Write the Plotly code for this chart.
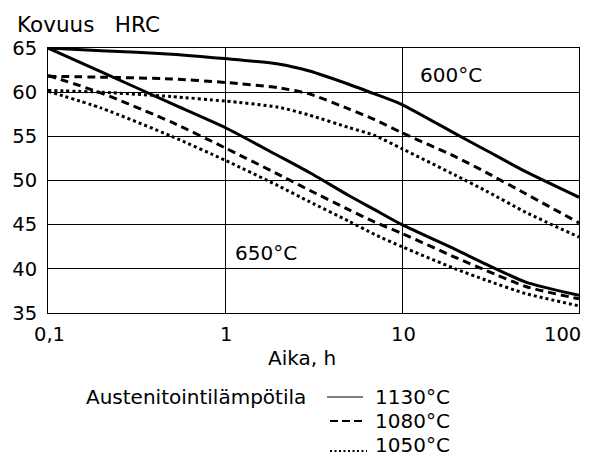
import math
import plotly.graph_objects as go

# Time (h), log axis
t = [0.1, 0.2, 0.5, 1, 2, 3, 5, 7, 10, 20, 30, 50, 100]

# 600°C tempering
h600_1130 = [65.0, 64.7, 64.3, 63.8, 63.2, 62.4, 60.9, 59.8, 58.6, 55.3, 53.4, 51.0, 48.1]
h600_1080 = [61.8, 61.7, 61.5, 61.1, 60.5, 59.8, 58.1, 56.9, 55.4, 52.7, 50.9, 48.5, 45.2]
h600_1050 = [60.2, 60.0, 59.5, 59.0, 58.3, 57.4, 56.0, 55.1, 53.6, 50.6, 48.8, 46.4, 43.6]

# 650°C tempering
h650_1130 = [65.0, 62.3, 58.7, 56.0, 52.8, 50.9, 48.3, 46.7, 45.0, 42.2, 40.5, 38.5, 37.0]
h650_1080 = [61.9, 59.9, 56.6, 53.7, 50.7, 48.9, 46.7, 45.3, 44.0, 41.3, 39.8, 38.0, 36.6]
h650_1050 = [60.1, 58.2, 55.0, 52.3, 49.4, 47.6, 45.4, 43.9, 42.5, 40.0, 38.7, 37.2, 35.8]

x_tickvals = [0.1, 1, 10, 100]
x_ticktext = ["0,1", "1", "10", "100"]
y_tickvals = [35, 40, 45, 50, 55, 60, 65]

legend_title = "Austenitointilämpötila"
legend_labels = ["1130°C", "1080°C", "1050°C"]
dashes = ["solid", "8px,5px", "3px,3px"]

FONT = "DejaVu Sans, sans-serif"
W, H = 597, 458
L, R, T, B = 48, 18, 48, 145

def px2paper(px, py):
    return (px - L) / (W - L - R), (H - B - py) / (H - T - B)

fig = go.Figure()
series = [(h600_1130, 0), (h600_1080, 1), (h600_1050, 2),
          (h650_1130, 0), (h650_1080, 1), (h650_1050, 2)]
for ys, k in series:
    fig.add_trace(go.Scatter(x=t, y=ys, mode="lines",
                             line=dict(color="black", width=3, dash=dashes[k],
                                       shape="spline", smoothing=0.6),
                             showlegend=False, hoverinfo="skip"))

fig.update_layout(
    width=W, height=H,
    margin=dict(l=L, r=R, t=T, b=B),
    paper_bgcolor="white", plot_bgcolor="white",
    font=dict(family=FONT, size=19, color="black"),
    showlegend=False,
)
fig.update_xaxes(type="log", range=[-1, 2], tickvals=x_tickvals, ticktext=x_ticktext,
                 showticklabels=False,
                 showgrid=True, gridcolor="black", gridwidth=1,
                 showline=True, linecolor="black", linewidth=1, mirror=True,
                 zeroline=False, ticks="")
fig.update_yaxes(range=[35, 65], tickvals=y_tickvals,
                 showgrid=True, gridcolor="black", gridwidth=1,
                 showline=True, linecolor="black", linewidth=1, mirror=True,
                 zeroline=False, ticks="", tickfont=dict(size=19.5),
                 ticklabelstandoff=6)

ann = []
# x tick labels
_, ytick = px2paper(0, 334)
for i, (v, txt) in enumerate(zip(x_tickvals, x_ticktext)):
    last = i == len(x_tickvals) - 1
    ann.append(dict(x=math.log10(v), y=ytick, xref="x", yref="paper", text=txt,
                    showarrow=False, xanchor="right" if last else "center",
                    yanchor="middle", xshift=4 if last else 1,
                    font=dict(size=19.5)))
# axis title
ax, ay = px2paper(302, 358)
ann.append(dict(x=ax, y=ay, xref="paper", yref="paper", text="Aika, h",
                showarrow=False, xanchor="center", yanchor="middle", font=dict(size=20)))
# y-axis heading
hx, hy = px2paper(15, 24)
ann.append(dict(x=hx, y=hy, xref="paper", yref="paper", text="Kovuus&nbsp;&nbsp;&nbsp;HRC",
                showarrow=False, xanchor="left", yanchor="middle", font=dict(size=21.5)))
# curve group labels
ann.append(dict(x=math.log10(18.9), y=61.9, xref="x", yref="y", text="600°C",
                showarrow=False, xanchor="center", yanchor="middle", font=dict(size=20)))
ann.append(dict(x=math.log10(1.71), y=41.8, xref="x", yref="y", text="650°C",
                showarrow=False, xanchor="center", yanchor="middle", font=dict(size=20)))

# legend
rows = [397, 421, 445]
tx, ty = px2paper(308, rows[0])
ann.append(dict(x=tx, y=ty, xref="paper", yref="paper", text=legend_title,
                showarrow=False, xanchor="right", yanchor="middle", font=dict(size=20)))
shapes = []
sample_style = [
    dict(x0=327, x1=363, dy=0, width=1.2, dash="solid"),
    dict(x0=330, x1=363, dy=0, width=2, dash="8px,4px"),
    dict(x0=330, x1=367, dy=6, width=2, dash="2px,2.5px"),
]
for i, lab in enumerate(legend_labels):
    st = sample_style[i]
    x0, y0 = px2paper(st["x0"], rows[i] + st["dy"])
    x1, _ = px2paper(st["x1"], rows[i])
    shapes.append(dict(type="line", xref="paper", yref="paper", x0=x0, x1=x1, y0=y0, y1=y0,
                       line=dict(color="black", width=st["width"], dash=st["dash"])))
    lx, ly = px2paper(373, rows[i])
    ann.append(dict(x=lx, y=ly, xref="paper", yref="paper", text=lab, showarrow=False,
                    xanchor="left", yanchor="middle", font=dict(size=20)))

fig.update_layout(annotations=ann, shapes=shapes)
fig.write_html("out.html")
